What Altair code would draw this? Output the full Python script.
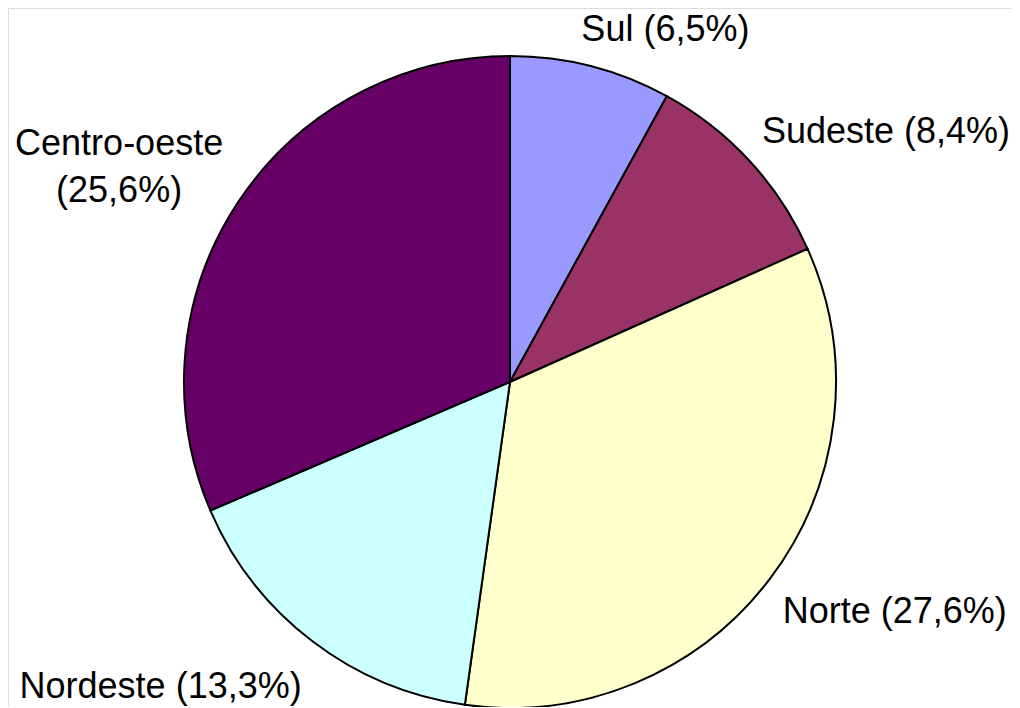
import altair as alt
import pandas as pd

regions = ["Sul", "Sudeste", "Norte", "Nordeste", "Centro-oeste"]
values = [6.5, 8.4, 27.6, 13.3, 25.6]
colors = ["#9999FF", "#993366", "#FFFFCC", "#CCFFFF", "#660066"]


def make_label(r, v):
    pct = f"({v:.1f}%)".replace(".", ",")
    sep = "\n" if r == "Centro-oeste" else " "
    return f"{r}{sep}{pct}"


df = pd.DataFrame({
    "region": regions,
    "value": values,
    "idx": list(range(len(regions))),
    "label": [make_label(r, v) for r, v in zip(regions, values)],
})

CX, CY = 502, 374
base = alt.Chart(df)

theta = alt.Theta("value:Q", stack=True)
order = alt.Order("idx:Q", sort="ascending")

pie = base.mark_arc(outerRadius=326, stroke="black", strokeWidth=2).encode(
    theta=theta,
    order=order,
    color=alt.Color("region:N", scale=alt.Scale(domain=regions, range=colors), legend=None),
    x=alt.value(CX),
    y=alt.value(CY),
)

offsets = {
    "Sul": (71, -12),
    "Sudeste": (126, -9),
    "Norte": (113, 37),
    "Nordeste": (-143, 46),
    "Centro-oeste": (-107, -40),
}

layers = [pie]
for r in regions:
    dx, dy = offsets[r]
    t = base.transform_calculate(
        t=f"datum.region == '{r}' ? datum.label : ''"
    ).mark_text(
        radius=340, fontSize=36, font="Liberation Sans", align="center",
        baseline="alphabetic", lineBreak="\n", lineHeight=47,
        color="black", dx=dx, dy=dy,
    ).encode(
        theta=theta,
        order=order,
        text="t:N",
        x=alt.value(CX),
        y=alt.value(CY),
    )
    layers.append(t)

chart = alt.layer(*layers).properties(
    width=1004, height=699, autosize=alt.AutoSizeParams(type="none"), padding=0
).configure_view(stroke="transparent", strokeWidth=0).configure(background="white")

chart.save("out.html", embed_options={"renderer": "svg", "actions": False})
